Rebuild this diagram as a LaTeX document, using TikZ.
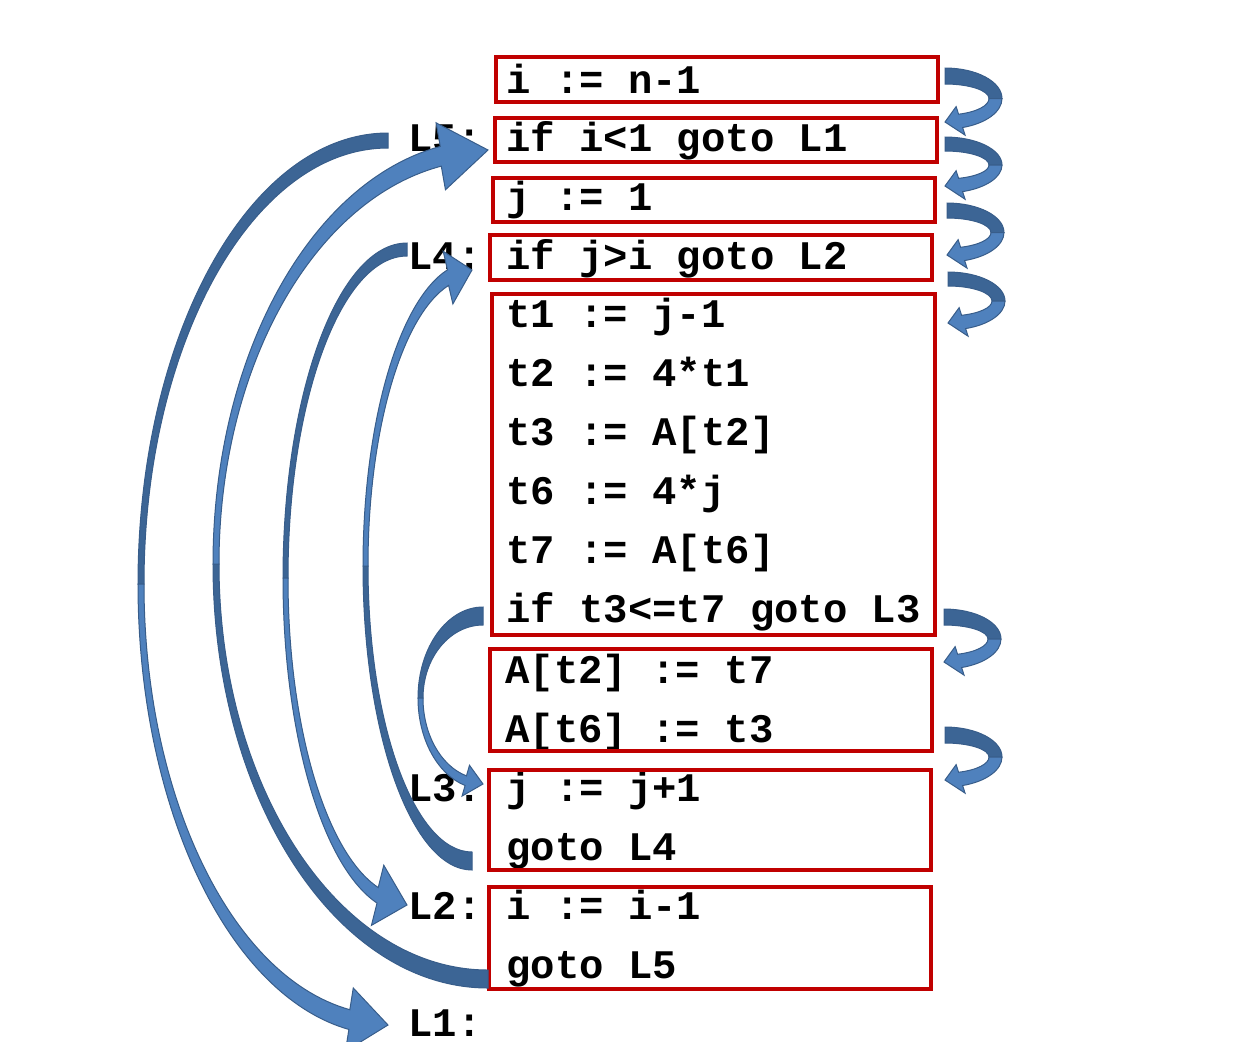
\documentclass[tikz,border=0pt]{standalone}
\usepackage{fontspec}
\setmonofont{Liberation Mono}
\usepackage{tikz}
\usetikzlibrary{fit}
\definecolor{boxred}{RGB}{192,0,0}
\definecolor{frontblue}{RGB}{79,129,189}
\definecolor{backblue}{RGB}{60,101,149}
\definecolor{edgeblue}{RGB}{56,93,138}
\tikzset{
    codebox/.style={rectangle, draw=boxred, line width=1.8pt, inner sep=0pt},
    code/.style={anchor=base west, inner sep=0pt, font=\ttfamily\bfseries\fontsize{20.3}{24}\selectfont},
    backface/.style={fill=backblue, draw=edgeblue, line width=0.5pt},
    frontface/.style={fill=frontblue, draw=edgeblue, line width=0.5pt}
}
% curved block arrow around the origin:
% #1,#2 radii, #3 tail width, #4 waist width, #5 head-side width,
% #6 tail angle, #7 waist angle, #8 head angle, #9 head overhang
\newcommand{\bentarrow}[9]{%
    \pgfmathsetmacro{\tipangle}{2*#7-#6}%
    \draw[backface] (#6:#1 and #2) arc[start angle=#6, end angle=#7, x radius=#1, y radius=#2]
        -- (#7:#1-#4 and #2-#3) arc[start angle=#7, end angle=#6, x radius=#1-#4, y radius=#2-#3] -- cycle;
    \draw[frontface] (#7:#1 and #2) arc[start angle=#7, end angle=#8, x radius=#1, y radius=#2]
        -- (#8:#1+#9 and #2+#9) -- (\tipangle:#1-#4/2 and #2-#5/2)
        -- (#8:#1-#4-#9 and #2-#5-#9) -- (#8:#1-#4 and #2-#5)
        arc[start angle=#8, end angle=#7, x radius=#1-#4, y radius=#2-#5] -- cycle;
}

\begin{document}
\begin{tikzpicture}[x=0.5pt, y=-0.5pt]
    \useasboundingbox (0,0) rectangle (1239,1041);

    % Code
    \node[code] (c1) at (506,93) {i := n-1};
    \node[code] (c2) at (506,151) {if i<1 goto L1};
    \node[code] (c3) at (506,210) {j := 1};
    \node[code] (c4) at (506,269) {if j>i goto L2};
    \node[code] (c5) at (506,327) {t1 := j-1};
    \node[code] (c6) at (506,386) {t2 := 4*t1};
    \node[code] (c7) at (506,445) {t3 := A[t2]};
    \node[code] (c8) at (506,504) {t6 := 4*j};
    \node[code] (c9) at (506,563) {t7 := A[t6]};
    \node[code] (c10) at (506,622) {if t3<=t7 goto L3};
    \node[code] (c11) at (505,683) {A[t2] := t7};
    \node[code] (c12) at (505,742) {A[t6] := t3};
    \node[code] (c13) at (506,801) {j := j+1};
    \node[code] (c14) at (506,860) {goto L4};
    \node[code] (c15) at (506,919) {i := i-1};
    \node[code] (c16) at (506,978) {goto L5};

    % Blocks
    \node[codebox, fit={(496,57) (938,102)}] (blk1) {};
    \node[codebox, fit={(495,118) (937,162)}] (blk2) {};
    \node[codebox, fit={(493,178) (935,222)}] (blk3) {};
    \node[codebox, fit={(490,235) (932,280)}] (blk4) {};
    \node[codebox, fit={(492,294) (935,635)}] (blk5) {};
    \node[codebox, fit={(490,649) (932,751)}] (blk6) {};
    \node[codebox, fit={(489,770) (931,870)}] (blk7) {};
    \node[codebox, fit={(489,887) (931,989)}] (blk8) {};

    % Labels
    \node[code] (lbl5) at (408,151) {L5:};
    \node[code] (lbl4) at (408,269) {L4:};
    \node[code] (lbl3) at (408,801) {L3:};
    \node[code] (lbl2) at (408,919) {L2:};
    \node[code, text depth=0pt] (lbl1) at (408,1036) {L1:};

    % Jumps
    \begin{scope}[shift={(388,584)}]
        \bentarrow{250}{451}{15}{6}{20}{-90}{-180}{-261}{22}
    \end{scope}
    \begin{scope}[shift={(488,564)}]
        \bentarrow{275}{424}{18}{6}{20}{90}{180}{260}{24}
    \end{scope}
    \begin{scope}[shift={(407,578)}]
        \bentarrow{124}{335}{13}{5}{16}{-90}{-180}{-256}{23}
    \end{scope}
    \begin{scope}[shift={(472,566)}]
        \bentarrow{109}{304}{18}{5}{16}{90}{180}{257}{19}
    \end{scope}
    \begin{scope}[shift={(483,698)}]
        \bentarrow{65}{91}{18}{5}{10}{-90}{-180}{-254}{11}
    \end{scope}

    % Fall-through
    \foreach \cx/\cy/\ry/\tw in {945/98.5/30.5/16, 945/165/28/14, 947/232.5/29.5/15,
                                 948/301/29/14, 944/639/30/16, 945/757/30/16} {
        \begin{scope}[shift={(\cx,\cy)}]
            \bentarrow{57}{\ry}{\tw}{13}{14}{-90}{0}{72}{8}
        \end{scope}
    }
\end{tikzpicture}
\end{document}
